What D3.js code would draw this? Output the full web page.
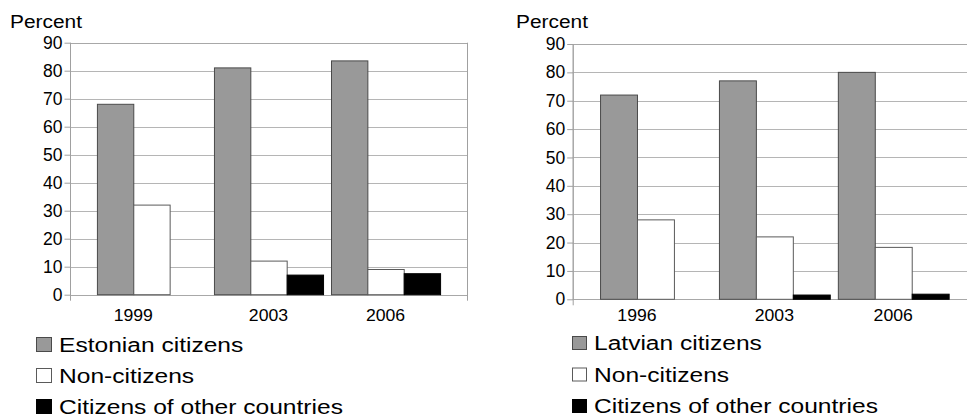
<!DOCTYPE html>
<html>
<head>
<meta charset="utf-8">
<script src="https://cdn.jsdelivr.net/npm/d3@7"></script>
<style>
  body { margin: 0; background: #fff; }
  svg { display: block; }
  text { font-family: "Liberation Sans", Arial, sans-serif; fill: #000; }
</style>
</head>
<body>
<svg id="chart" width="967" height="418"></svg>
<script>
// Population by citizenship status, percent
const yTicks = [0, 10, 20, 30, 40, 50, 60, 70, 80, 90];

const yearsEE = ["1999", "2003", "2006"];
const estonianCitizens = [68, 81, 83.5];
const nonCitizensEE = [32, 12, 9];
const otherCountriesEE = [null, 7, 7.5];
const legendEE = ["Estonian citizens", "Non-citizens", "Citizens of other countries"];

const yearsLV = ["1996", "2003", "2006"];
const latvianCitizens = [72, 77, 80];
const nonCitizensLV = [28, 22, 18.3];
const otherCountriesLV = [null, 1.5, 1.8];
const legendLV = ["Latvian citizens", "Non-citizens", "Citizens of other countries"];

const fills = ["#999999", "#ffffff", "#000000"];
const strokes = ["#4a4a4a", "#5a5a5a", "#000000"];

const svg = d3.select("#chart");

function stretchedText(g, x, y, str, size, sx, anchor) {
  return g.append("text")
    .attr("transform", `translate(${x},${y}) scale(${sx},1)`)
    .attr("text-anchor", anchor || "start")
    .style("font-size", size + "px")
    .text(str);
}

function drawPanel(cfg) {
  const g = svg.append("g");
  const { x0, x1, y0, y1 } = cfg;

  const y = d3.scaleLinear().domain([0, 90]).range([y1, y0]);
  const x = d3.scaleBand().domain(cfg.years).range([x0, x1])
    .paddingInner(0.068).paddingOuter(0.23);
  const inner = d3.scaleBand().domain(d3.range(cfg.series.length)).range([0, x.bandwidth()]);

  // gridlines
  g.append("g").selectAll("line").data(yTicks).join("line")
    .attr("x1", x0).attr("x2", x1)
    .attr("y1", d => Math.round(y(d)) + 0.5).attr("y2", d => Math.round(y(d)) + 0.5)
    .attr("stroke", "#b5b5b5").attr("stroke-width", 1);

  // frame
  g.append("rect")
    .attr("x", x0 + 0.5).attr("y", Math.round(y0) + 0.5)
    .attr("width", x1 - x0).attr("height", Math.round(y1) - Math.round(y0))
    .attr("fill", "none").attr("stroke", "#a8a8a8");
  g.append("line")
    .attr("x1", x0 + 0.5).attr("x2", x0 + 0.5)
    .attr("y1", y0).attr("y2", y1 + 6)
    .attr("stroke", "#a0a0a0");
  g.append("line")
    .attr("x1", x1 + 0.5).attr("x2", x1 + 0.5)
    .attr("y1", y0).attr("y2", y1 + 6)
    .attr("stroke", "#a0a0a0");

  // y axis
  const axis = g.append("g")
    .attr("transform", `translate(${x0 + 0.5},0)`)
    .call(d3.axisLeft(y).tickValues(yTicks).tickSize(6).tickPadding(2).tickFormat(d3.format("d")));
  axis.select(".domain").remove();
  axis.selectAll(".tick line").attr("stroke", "#a0a0a0");
  axis.selectAll(".tick text")
    .style("font-size", "17.5px")
    .style("font-family", "'Liberation Sans', Arial, sans-serif")
    .attr("fill", "#000");

  // bars
  cfg.years.forEach((yr, i) => {
    const grp = g.append("g").attr("transform", `translate(${x(yr)},0)`);
    cfg.series.forEach((vals, j) => {
      const v = vals[i];
      if (v == null) return;
      grp.append("rect")
        .attr("x", inner(j) + 0.5)
        .attr("y", y(v))
        .attr("width", inner.bandwidth())
        .attr("height", y(0) - y(v))
        .attr("fill", fills[j])
        .attr("stroke", strokes[j])
        .attr("stroke-width", 1);
    });
    // category label centred under the bars that are drawn
    const shown = cfg.series.filter(vals => vals[i] != null).length;
    stretchedText(g, x(yr) + shown * inner.bandwidth() / 2, cfg.labelY, yr, 16.5, 1.07, "middle");
  });

  // axis title
  stretchedText(g, cfg.titleX, cfg.titleY, "Percent", 18, 1.16);

  // legend
  cfg.legend.forEach((name, j) => {
    const base = cfg.legendY + j * cfg.legendStep;
    g.append("rect")
      .attr("x", cfg.legendX + 0.5).attr("y", base - cfg.swatch + 0.5)
      .attr("width", cfg.swatch).attr("height", cfg.swatch - 1)
      .attr("fill", fills[j]).attr("stroke", strokes[j]);
    stretchedText(g, cfg.legendX + cfg.swatch + 8, base, name, 21, 1.17);
  });
}

drawPanel({
  x0: 70, x1: 467, y0: 42.7, y1: 294.7,
  years: yearsEE,
  series: [estonianCitizens, nonCitizensEE, otherCountriesEE],
  legend: legendEE,
  labelY: 321, titleX: 10, titleY: 28,
  legendX: 36, legendY: 352, legendStep: 31, swatch: 15
});

drawPanel({
  x0: 572.7, x1: 976, y0: 44, y1: 299.3,
  years: yearsLV,
  series: [latvianCitizens, nonCitizensLV, otherCountriesLV],
  legend: legendLV,
  labelY: 321, titleX: 516, titleY: 28,
  legendX: 572, legendY: 350, legendStep: 31.5, swatch: 14
});
</script>
</body>
</html>
